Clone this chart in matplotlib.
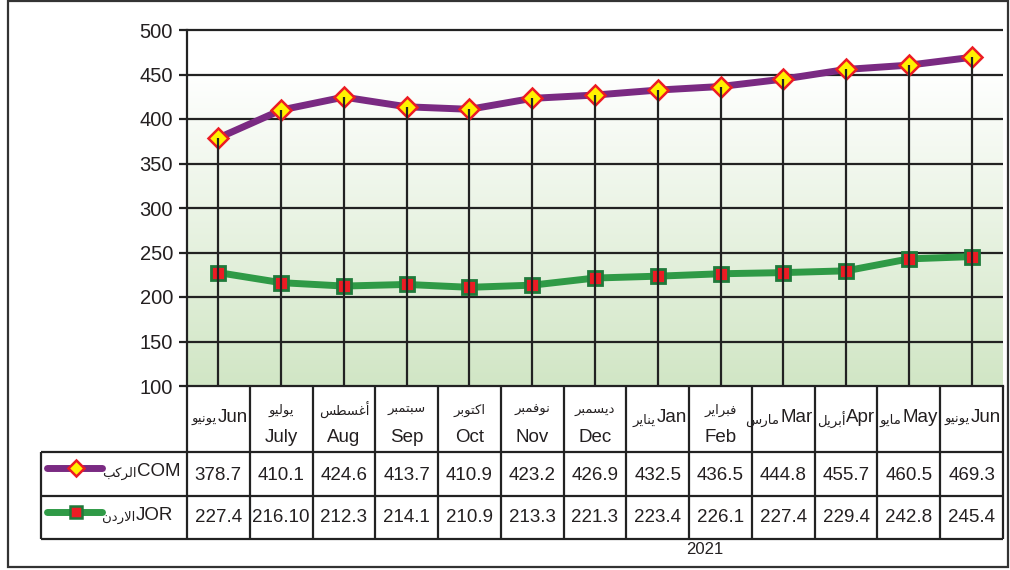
import numpy as np
import matplotlib
matplotlib.use('Agg')
import matplotlib.pyplot as plt
from matplotlib.patches import Rectangle
from matplotlib.colors import LinearSegmentedColormap

# data
months_en = ['Jun', 'July', 'Aug', 'Sep', 'Oct', 'Nov', 'Dec', 'Jan', 'Feb', 'Mar', 'Apr', 'May', 'Jun']
months_ar = ['يونيو', 'يوليو', 'أغسطس', 'سبتمبر', 'اكتوبر', 'نوفمبر', 'ديسمبر',
             'يناير', 'فبراير', 'مارس', 'أبريل', 'مايو', 'يونيو']
two_line = [False, True, True, True, True, True, True, False, True, False, False, False, False]
com_txt = ['378.7', '410.1', '424.6', '413.7', '410.9', '423.2', '426.9',
           '432.5', '436.5', '444.8', '455.7', '460.5', '469.3']
jor_txt = ['227.4', '216.10', '212.3', '214.1', '210.9', '213.3', '221.3',
           '223.4', '226.1', '227.4', '229.4', '242.8', '245.4']
com = [float(s) for s in com_txt]
jor = [float(s) for s in jor_txt]
series_names = [('COM', 'الركب'), ('JOR', 'الاردن')]
year_label = '2021'

# matplotlib has no arabic shaping, so pick the presentation forms by hand
FORMS = {
    'ا': (0xFE8D, 0xFE8E, None, None), 'أ': (0xFE83, 0xFE84, None, None),
    'ب': (0xFE8F, 0xFE90, 0xFE91, 0xFE92), 'ت': (0xFE95, 0xFE96, 0xFE97, 0xFE98),
    'د': (0xFEA9, 0xFEAA, None, None), 'ر': (0xFEAD, 0xFEAE, None, None),
    'س': (0xFEB1, 0xFEB2, 0xFEB3, 0xFEB4), 'ط': (0xFEC1, 0xFEC2, 0xFEC3, 0xFEC4),
    'غ': (0xFECD, 0xFECE, 0xFECF, 0xFED0), 'ف': (0xFED1, 0xFED2, 0xFED3, 0xFED4),
    'ك': (0xFED9, 0xFEDA, 0xFEDB, 0xFEDC), 'ل': (0xFEDD, 0xFEDE, 0xFEDF, 0xFEE0),
    'م': (0xFEE1, 0xFEE2, 0xFEE3, 0xFEE4), 'ن': (0xFEE5, 0xFEE6, 0xFEE7, 0xFEE8),
    'و': (0xFEED, 0xFEEE, None, None), 'ي': (0xFEF1, 0xFEF2, 0xFEF3, 0xFEF4),
}
LAMALEF = {'ا': (0xFEFB, 0xFEFC), 'أ': (0xFEF7, 0xFEF8)}


def shape(word):
    out = []
    joins_prev = False
    i = 0
    while i < len(word):
        c = word[i]
        if c == 'ل' and i + 1 < len(word) and word[i + 1] in LAMALEF:
            out.append(chr(LAMALEF[word[i + 1]][1 if joins_prev else 0]))
            joins_prev = False
            i += 2
            continue
        f = FORMS[c]
        fwd = f[2] is not None and i + 1 < len(word)
        if joins_prev and fwd:
            g = f[3]
        elif fwd:
            g = f[2]
        elif joins_prev:
            g = f[1]
        else:
            g = f[0]
        out.append(chr(g))
        joins_prev = fwd
        i += 1
    return ''.join(reversed(out))


LAT = ['Liberation Sans', 'DejaVu Sans']
ARB = ['DejaVu Sans']
INK = '#231f20'
W, H = 1010, 570


def fx(x):
    return x / W


def fy(y):
    return 1 - y / H


fig = plt.figure(figsize=(W / 100, H / 100), dpi=100)

# main plot
ax = fig.add_axes([fx(187), fy(386), fx(1003) - fx(187), fy(30) - fy(386)])
ax.set_xlim(0, 13)
ax.set_ylim(100, 500)
x = np.arange(13) + 0.5

green = LinearSegmentedColormap.from_list('g', ['#d1e6c5', '#ffffff'])
grad = np.linspace(0, 1, 256).reshape(-1, 1)
ax.imshow(grad, cmap=green, origin='lower', extent=(0, 13, 100, 455),
          aspect='auto', zorder=0)

ax.hlines(np.arange(150, 501, 50), 0, 13, color='#222', lw=1.6, zorder=1, clip_on=False)
ax.plot(x, com, color='#7a2a82', lw=5, marker='D', ms=10, mfc='#fff200',
        mec='#ec1c24', mew=1.8, zorder=3)
ax.plot(x, jor, color='#2f9a46', lw=5, marker='s', ms=9.5, mfc='#ec1c24',
        mec='#1f7a3a', mew=2, zorder=3)
ax.vlines(x, 100, com, color='#222', lw=1.6, zorder=4)

for s in ['top', 'right']:
    ax.spines[s].set_visible(False)
for s in ['left', 'bottom']:
    ax.spines[s].set_linewidth(1.6)
    ax.spines[s].set_color('#222')
ax.set_xticks([])
ax.set_yticks(np.arange(100, 501, 50))
ax.tick_params(axis='y', length=6, width=1.6, pad=4, color='#222', labelcolor=INK)
for lab in ax.get_yticklabels():
    lab.set_fontfamily(LAT)
    lab.set_fontsize(14.5)

# table under the plot, pixel rows: header 0-66, COM 66-110, JOR 110-153
cw = 816 / 13
tax = fig.add_axes([fx(41), fy(539), fx(1003) - fx(41), fy(386) - fy(539)])
tax.set_xlim(-146 / cw, 13)
tax.set_ylim(153, 0)
tax.axis('off')
lk = dict(color='#222', lw=1.6, clip_on=False)
left = -146 / cw
tax.vlines(np.arange(14), 0, 153, **lk)
tax.vlines(left, 66, 153, **lk)
tax.hlines([66, 110, 153], left, 13, **lk)

renderer = fig.canvas.get_renderer()
inv = tax.transData.inverted()

for i in range(13):
    if two_line[i]:
        tax.text(i + 0.5, 24, shape(months_ar[i]), ha='center', va='center',
                 fontsize=9.5, family=ARB, color=INK)
        tax.text(i + 0.5, 51, months_en[i], ha='center', va='center',
                 fontsize=13.5, family=LAT, color=INK)
    else:
        t = tax.text(i + 1 - 2 / cw, 32, months_en[i], ha='right', va='center',
                     fontsize=13.5, family=LAT, color=INK)
        x0 = inv.transform(t.get_window_extent(renderer).get_points())[0][0]
        tax.text(x0 - 1 / cw, 34, shape(months_ar[i]), ha='right', va='center',
                 fontsize=9.5, family=ARB, color=INK)
    tax.text(i + 0.5, 89, com_txt[i], ha='center', va='center', fontsize=13.5,
             family=LAT, color=INK)
    tax.text(i + 0.5, 132, jor_txt[i], ha='center', va='center', fontsize=13.5,
             family=LAT, color=INK)

# legend keys inside the table
keys = [(82, '#7a2a82', 'D', '#fff200', '#ec1c24'),
        (126, '#2f9a46', 's', '#ec1c24', '#1f7a3a')]
for (yk, lc, mk, mf, me), (en, ar), xr in zip(keys, series_names, [180, 173]):
    tax.plot([(47 - 187) / cw, (102 - 187) / cw], [yk, yk], color=lc, lw=5,
             solid_capstyle='round', clip_on=False)
    tax.plot([(76 - 187) / cw], [yk], marker=mk, ms=8, mfc=mf, mec=me, mew=1.8,
             clip_on=False)
    t = tax.text((xr - 187) / cw, yk + 3, en, ha='right', va='center', fontsize=13.5,
                 family=LAT, color=INK)
    x0 = inv.transform(t.get_window_extent(renderer).get_points())[0][0]
    tax.text(x0, yk + 5, shape(ar), ha='right', va='center', fontsize=9.5,
             family=ARB, color=INK)

fig.text(fx(705), fy(550), year_label, ha='center', va='center', fontsize=12,
         family=LAT, color=INK)

# outer frame
fig.patches.append(Rectangle((fx(8), fy(567)), fx(1008) - fx(8), fy(1) - fy(567),
                             transform=fig.transFigure, fill=False, lw=1.6, ec='#333'))

fig.savefig('out.png', dpi=100)
